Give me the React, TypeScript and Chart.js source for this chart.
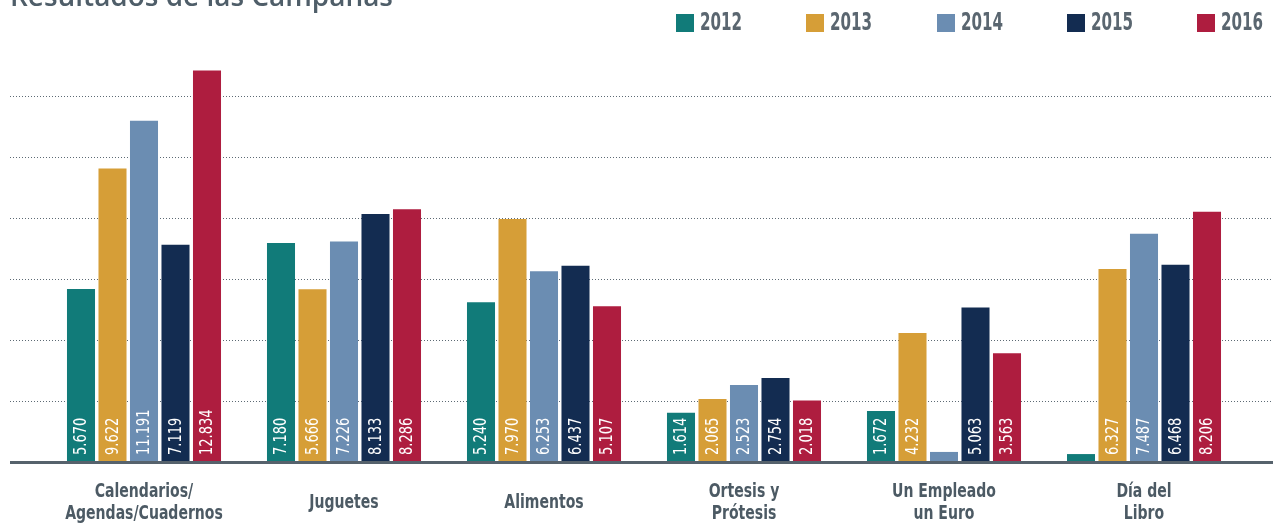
import { useEffect, useRef } from "react";
import { Chart, registerables } from "chart.js";

Chart.register(...registerables);

const TITLE = "Resultados de las Campañas";
const categories: (string | string[])[] = [
  ["Calendarios/", "Agendas/Cuadernos"],
  "Juguetes",
  "Alimentos",
  ["Ortesis y", "Prótesis"],
  ["Un Empleado", "un Euro"],
  ["Día del", "Libro"],
];
const years = ["2012", "2013", "2014", "2015", "2016"];
const values2012 = [5670, 7180, 5240, 1614, 1672, 260];
const values2013 = [9622, 5666, 7970, 2065, 4232, 6327];
const values2014 = [11191, 7226, 6253, 2523, 330, 7487];
const values2015 = [7119, 8133, 6437, 2754, 5063, 6468];
const values2016 = [12834, 8286, 5107, 2018, 3563, 8206];
const gridValues = [2000, 4000, 6000, 8000, 10000, 12000];
const colors = ["#117b79", "#d69e37", "#6b8db2", "#132c51", "#ae1d3f"];

const NARROW = '"DejaVu Sans Condensed", "DejaVu Sans", sans-serif';

function fmt(n: number): string {
  if (n < 1000) return String(n);
  return `${Math.floor(n / 1000)}.${String(n % 1000).padStart(3, "0")}`;
}

function narrowText(ctx: CanvasRenderingContext2D, text: string, x: number, y: number, sx: number) {
  ctx.save();
  ctx.translate(x, y);
  ctx.scale(sx, 1);
  ctx.fillText(text, 0, 0);
  ctx.restore();
}

const decorPlugin = {
  id: "decor",
  beforeDatasetsDraw(chart: any) {
    const { ctx, scales } = chart;
    const y = scales.y;
    ctx.save();
    ctx.strokeStyle = "#5d6a74";
    ctx.lineWidth = 1;
    ctx.setLineDash([1, 2]);
    for (const v of gridValues) {
      const py = Math.round(y.getPixelForValue(v)) + 0.5;
      ctx.beginPath();
      ctx.moveTo(10, py);
      ctx.lineTo(chart.width, py);
      ctx.stroke();
    }
    ctx.restore();
  },
  afterDatasetsDraw(chart: any) {
    const { ctx, scales } = chart;
    const y0 = scales.y.getPixelForValue(0);
    ctx.save();
    // value labels inside bars
    ctx.fillStyle = "#ffffff";
    ctx.font = `17px ${NARROW}`;
    ctx.textAlign = "left";
    ctx.textBaseline = "middle";
    chart.data.datasets.forEach((ds: any, di: number) => {
      const meta = chart.getDatasetMeta(di);
      meta.data.forEach((bar: any, i: number) => {
        const v = ds.data[i];
        if (v < 1000) return;
        ctx.save();
        ctx.translate(bar.x + 1, y0 - 7);
        ctx.rotate(-Math.PI / 2);
        ctx.scale(0.85, 1);
        ctx.fillText(fmt(v), 0, 0);
        ctx.restore();
      });
    });
    // baseline
    ctx.fillStyle = "#56626c";
    ctx.fillRect(10, Math.round(y0) - 1, chart.width - 10, 3);
    // category labels
    const xs = scales.x;
    ctx.fillStyle = "#4c5a64";
    ctx.font = `bold 20px ${NARROW}`;
    ctx.textAlign = "center";
    ctx.textBaseline = "middle";
    const lh = 21.5;
    const center = y0 + 41;
    chart.data.labels.forEach((lab: any, i: number) => {
      const lines: string[] = Array.isArray(lab) ? lab : [lab];
      const px = xs.getPixelForTick(i);
      const start = center - ((lines.length - 1) * lh) / 2;
      lines.forEach((ln, k) => narrowText(ctx, ln, px, start + k * lh, 0.78));
    });
    ctx.restore();
  },
  afterDraw(chart: any) {
    const { ctx } = chart;
    ctx.save();
    // title
    ctx.fillStyle = "#4f5e69";
    ctx.font = `600 30px "Open Sans", sans-serif`;
    const w = ctx.measureText(TITLE).width;
    const size = (30 * 383) / w;
    ctx.font = `600 ${size}px "Open Sans", sans-serif`;
    ctx.textAlign = "left";
    ctx.textBaseline = "alphabetic";
    ctx.fillText(TITLE, 10, 6);
    // legend
    ctx.font = `bold 24px ${NARROW}`;
    ctx.textBaseline = "middle";
    chart.data.datasets.forEach((ds: any, i: number) => {
      const x = Math.round(676 + i * 130.25);
      ctx.fillStyle = ds.backgroundColor;
      ctx.fillRect(x, 14, 18, 18);
      ctx.fillStyle = "#5a6670";
      narrowText(ctx, ds.label, x + 24, 24, 0.7);
    });
    ctx.restore();
  },
};

export default function App() {
  const ref = useRef<HTMLCanvasElement | null>(null);
  useEffect(() => {
    if (!ref.current) return;
    const seriesValues = [values2012, values2013, values2014, values2015, values2016];
    const chart = new Chart(ref.current, {
      type: "bar",
      data: {
        labels: categories,
        datasets: years.map((yr, i) => ({
          label: yr,
          data: seriesValues[i],
          backgroundColor: colors[i],
          borderWidth: 0,
          categoryPercentage: 0.7875,
          barPercentage: 0.89,
        })),
      },
      options: {
        responsive: false,
        animation: false,
        layout: { padding: { top: 35, left: 44, right: 29, bottom: 64 } },
        plugins: {
          legend: { display: false },
          title: { display: false },
          tooltip: { enabled: false },
        },
        scales: {
          x: {
            grid: { display: false, drawTicks: false },
            border: { display: false },
            ticks: { display: false },
          },
          y: {
            display: false,
            min: 0,
            max: 14000,
          },
        },
      },
      plugins: [decorPlugin],
    });
    return () => chart.destroy();
  }, []);
  return (
    <div style={{ position: "absolute", left: 0, top: 0, width: 1273, height: 526 }}>
      <canvas ref={ref} width={1273} height={526} style={{ display: "block" }} />
    </div>
  );
}
